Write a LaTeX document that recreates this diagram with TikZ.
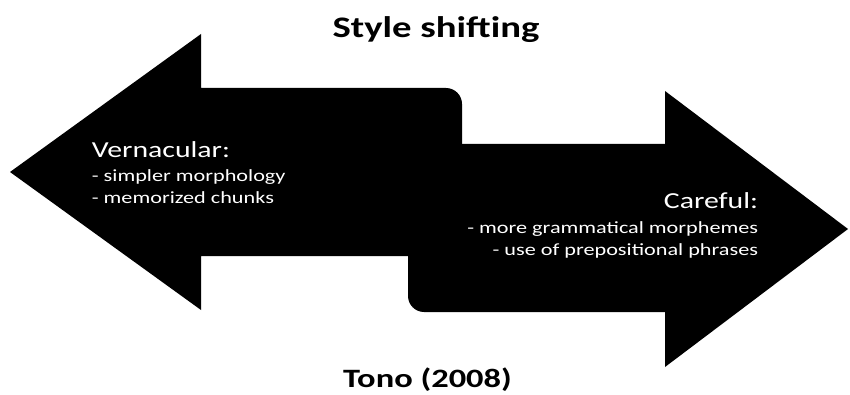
\documentclass[tikz,border=0pt]{standalone}
\usepackage{fontspec}
% Calibri-metric face, widened to the slide's horizontal stretch
\setmainfont{Carlito}[FakeStretch=1.3]

\begin{document}
\begin{tikzpicture}[x=1pt,y=-1pt,
  arrowbody/.style={fill=black},
  heading/.style={inner sep=0pt, anchor=base, font=\bfseries\fontsize{29.8}{32}\selectfont},
  credit/.style={inner sep=0pt, anchor=base, font=\bfseries\fontsize{26.5}{28}\selectfont},
  pole/.style={inner sep=0pt, text=white, font=\fontsize{22.9}{25}\selectfont},
  trait/.style={inner sep=0pt, text=white, font=\fontsize{17.1}{19}\selectfont}]

\useasboundingbox[fill=white] (0,0) rectangle (850,395);

% arrow pointing left (vernacular end)
\fill[arrowbody] (10,172) -- (201,34) -- (201,88) -- (446,88)
  .. controls (454.8,88) and (462,95.2) .. (462,104)
  -- (462,256) -- (201,256) -- (201,310) -- cycle;

% arrow pointing right (careful end)
\fill[arrowbody] (848,229) -- (665,91) -- (665,144) -- (408,144)
  -- (408,296) .. controls (408,304.8) and (415.2,312) .. (424,312)
  -- (665,312) -- (665,367) -- cycle;

% titles
\node[heading] (title) at (436,37.3) {Style shifting};
\node[credit] (source) at (427.5,387.3) {Tono (2008)};

% left arrow text
\node[pole, anchor=base west] (vern) at (91.7,157.3) {Vernacular:};
\node[trait, anchor=base west] (vernA) at (91.7,181.7) {- simpler morphology};
\node[trait, anchor=base west] (vernB) at (91.7,203.3) {- memorized chunks};

% right arrow text
\node[pole, anchor=base east] (care) at (758.3,208.3) {Careful:};
\node[trait, anchor=base east] (careA) at (758.3,233.3) {- more grammatical morphemes};
\node[trait, anchor=base east] (careB) at (758.3,255) {- use of prepositional phrases};
\end{tikzpicture}
\end{document}
